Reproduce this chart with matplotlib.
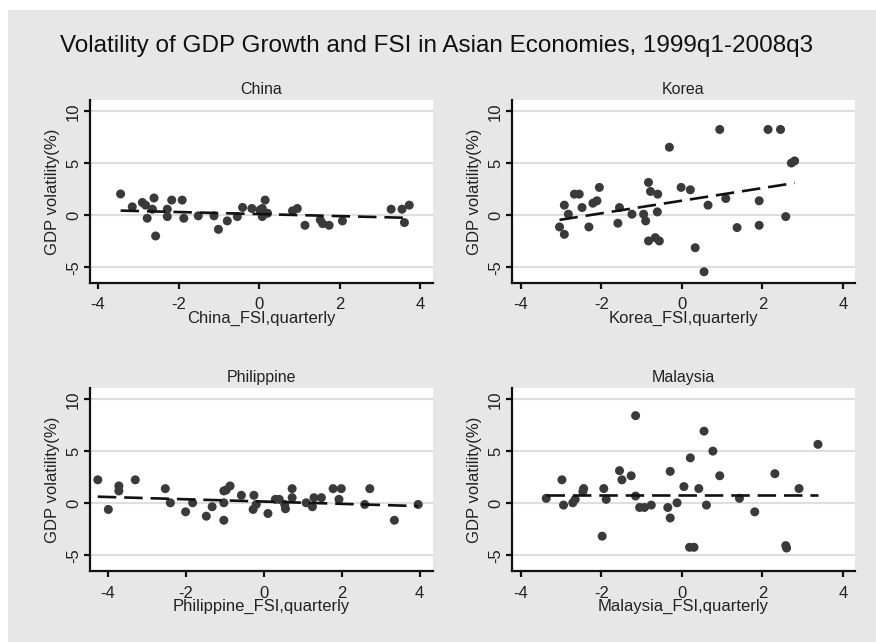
import numpy as np
import matplotlib
matplotlib.use("Agg")
import matplotlib.pyplot as plt
from matplotlib import font_manager
from matplotlib.patches import Rectangle

# pick a narrow sans face if one is available
_names = {f.name for f in font_manager.fontManager.ttflist}
_family = [n for n in ["Liberation Sans Narrow", "Liberation Sans", "DejaVu Sans"] if n in _names]
plt.rcParams["font.family"] = _family
plt.rcParams["axes.unicode_minus"] = False

# ---- data: FSI (x) and GDP volatility (y) per economy ----
china_fsi = [-3.44, -3.15, -2.90, -2.82, -2.78, -2.61, -2.65, -2.57, -2.28, -2.28,
             -2.17, -1.91, -1.87, -1.51, -1.12, -1.01, -0.79, -0.54, -0.41, -0.18,
             0.08, 0.15, 0.08, 0.21, 0.02, 0.83, 0.95, 1.14, 1.52, 1.58,
             1.74, 2.07, 3.28, 3.55, 3.61, 3.73]
china_gdp = [2.05, 0.81, 1.23, 0.97, -0.29, 1.66, 0.58, -2.00, 0.58, -0.13,
             1.46, 1.46, -0.29, -0.06, -0.06, -1.36, -0.55, -0.13, 0.75, 0.65,
             0.65, 1.46, -0.13, 0.19, 0.50, 0.42, 0.65, -0.97, -0.45, -0.81,
             -0.97, -0.55, 0.58, 0.58, -0.71, 0.97]

korea_fsi = [-3.04, -2.92, -2.92, -2.82, -2.67, -2.55, -2.48, -2.31, -2.21, -2.11,
             -2.05, -1.59, -1.55, -1.24, -0.95, -0.90, -0.83, -0.78, -0.83, -0.66,
             -0.56, -0.60, -0.61, -0.31, -0.02, 0.21, 0.33, 0.55, 0.65, 0.94,
             1.09, 1.37, 1.92, 1.92, 2.14, 2.45, 2.58, 2.72, 2.80]
korea_gdp = [-1.13, -1.84, 0.97, 0.10, 2.03, 2.03, 0.74, -1.13, 1.16, 1.39,
             2.68, -0.77, 0.74, 0.10, 0.10, -0.55, 3.16, 2.29, -2.48, -2.16,
             -2.48, 2.03, 0.32, 6.55, 2.68, 2.45, -3.13, -5.45, 0.97, 8.26,
             1.61, -1.19, 1.39, -0.97, 8.26, 8.26, -0.13, 5.03, 5.23]

phil_fsi = [-4.25, -3.98, -3.71, -3.71, -3.29, -2.52, -2.39, -2.00, -1.82, -1.47,
            -1.32, -1.02, -1.02, -1.02, -0.96, -0.86, -0.57, -0.25, -0.27, -0.19,
            0.11, 0.30, 0.40, 0.56, 0.54, 0.73, 0.73, 1.09, 1.25, 1.29,
            1.48, 1.78, 1.99, 1.93, 2.59, 2.72, 3.35, 3.96]
phil_gdp = [2.27, -0.58, 1.68, 1.20, 2.27, 1.42, 0.06, -0.81, 0.06, -1.23,
            -0.32, -1.62, 0.06, 1.20, 1.29, 1.68, 0.78, 0.78, -0.58, -0.10,
            -0.97, 0.39, 0.39, -0.52, -0.10, 1.42, 0.55, 0.06, -0.32, 0.55,
            0.55, 1.42, 1.42, 0.39, -0.10, 1.42, -1.62, -0.10]

malay_fsi = [-3.37, -2.98, -2.94, -2.71, -2.65, -2.46, -2.44, -1.94, -1.88, -1.98,
             -1.55, -1.49, -1.26, -1.15, -1.15, -1.05, -0.93, -0.76, -0.35, -0.29,
             -0.29, -0.12, 0.05, 0.21, 0.19, 0.30, 0.42, 0.55, 0.61, 0.77,
             0.94, 1.43, 1.81, 2.31, 2.58, 2.60, 2.91, 3.38]
malay_gdp = [0.49, 2.27, -0.16, 0.06, 0.39, 1.14, 1.43, 1.43, 0.39, -3.15,
             3.15, 2.27, 2.66, 8.44, 0.71, -0.39, -0.39, -0.16, -0.39, 3.08,
             -1.40, 0.06, 1.62, 4.38, -4.22, -4.22, 1.43, 6.95, -0.16, 5.03,
             2.66, 0.49, -0.81, 2.86, -4.06, -4.29, 1.43, 5.68]

# linear fit per economy: intercept and slope
fit_intercept = [0.11, 1.40, 0.18, 0.81]
fit_slope = [-0.098, 0.608, -0.110, 0.0]

panel_names = ["China", "Korea", "Philippine", "Malaysia"]
panel_x = [china_fsi, korea_fsi, phil_fsi, malay_fsi]
panel_y = [china_gdp, korea_gdp, phil_gdp, malay_gdp]
x_ticks = [-4, -2, 0, 2, 4]
y_ticks = [-5, 0, 5, 10]

# ---- layout (figure fractions) ----
W, H = 876, 642
fig = plt.figure(figsize=(W / 100, H / 100), dpi=100)
fig.patch.set_facecolor("white")
fig.patches.append(Rectangle((8 / W, 0), 1 - 8 / W, 1 - 10 / H, transform=fig.transFigure,
                             facecolor="#e7e7e7", edgecolor="none", zorder=-10))

boxes = [
    (90, 433, 100, 282.7, (-4.2, 4.32)),
    (512, 855, 100, 282.7, (-4.22, 4.3)),
    (90, 433, 388, 571, (-4.45, 4.34)),
    (512, 855, 388, 571, (-4.22, 4.3)),
]

fig.text(437 / W, 1 - 46 / H, "Volatility of GDP Growth and FSI in Asian Economies, 1999q1-2008q3",
         ha="center", va="center", fontsize=17.5, color="#111111")

for i, (name, xs, ys, (l, r, t, b, xl)) in enumerate(zip(panel_names, panel_x, panel_y, boxes)):
    ax = fig.add_axes([l / W, 1 - b / H, (r - l) / W, (b - t) / H])
    ax.set_facecolor("white")
    ax.set_xlim(*xl)
    ax.set_ylim(-6.5, 11.1)
    for s in ["top", "right"]:
        ax.spines[s].set_visible(False)
    for s in ["left", "bottom"]:
        ax.spines[s].set_linewidth(1.6)
        ax.spines[s].set_color("#111111")
    ax.set_xticks(x_ticks)
    ax.set_yticks(y_ticks)
    ax.tick_params(axis="both", direction="out", length=4.5, width=1.6, color="#111111",
                   labelsize=12, labelcolor="#222222")
    ax.tick_params(axis="x", pad=6)
    ax.tick_params(axis="y", pad=2)
    for lab in ax.get_yticklabels():
        lab.set_rotation(90)
        lab.set_va("center")
    ax.yaxis.grid(True, color="#dedede", lw=1.5)
    ax.set_axisbelow(True)

    ax.scatter(xs, ys, s=42, color="#3a3a3a", edgecolors="none", zorder=3)
    xa = np.asarray(xs)
    xx = np.array([xa.min(), xa.max()])
    ax.plot(xx, fit_intercept[i] + fit_slope[i] * xx, color="#111111", lw=1.9,
            ls=(0, (7, 3)), zorder=4)

    ax.set_title(name, fontsize=11.5, color="#222222", pad=4)
    ax.set_xlabel(f"{name}_FSI,quarterly", fontsize=12, color="#222222", labelpad=-1)
    ax.set_ylabel("GDP volatility(%)", fontsize=12, color="#222222", labelpad=4)

fig.savefig("out.png", dpi=100)
